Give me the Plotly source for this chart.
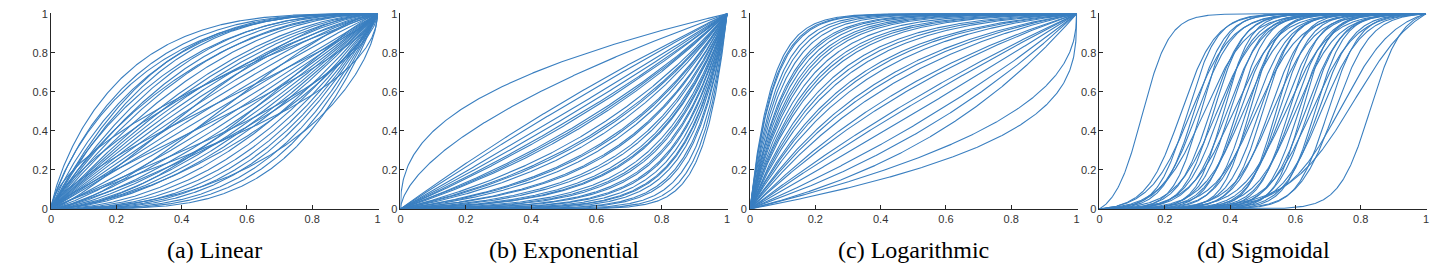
import numpy as np
import plotly.graph_objects as go

# ---------------- data (curve parameters) ----------------
tick_vals = [0, 0.2, 0.4, 0.6, 0.8, 1]
tick_text = ["0", "0.2", "0.4", "0.6", "0.8", "1"]
captions = ["(a) Linear", "(b) Exponential", "(c) Logarithmic", "(d) Sigmoidal"]

# (a) Linear: y = 1 - (1 - x^a)^b
linear_a = [0.8, 0.85, 0.9, 0.8, 1.0, 1.0, 0.9, 1.0, 1.0, 0.9, 1.0, 1.0, 1.0, 1.0, 1.0,
            1.0, 1.0, 1.0, 1.0, 1.0, 1.0, 1.1, 1.2, 1.3, 1.4, 1.5, 1.6, 1.7, 1.8, 2.0,
            2.2, 2.4, 2.6, 2.8, 3.0, 3.3, 3.6, 4.0, 0.8, 0.7, 0.9, 1.5, 1.3, 1.8, 0.75,
            1.2, 0.85, 2.2, 1.6, 0.6]
linear_b = [3.2, 3.0, 2.8, 2.6, 3.2, 3.0, 2.4, 2.6, 2.4, 2.0, 2.2, 2.0, 1.8, 1.7, 1.6,
            1.5, 1.4, 1.3, 1.2, 1.1, 1.0, 1.0, 1.0, 1.0, 1.0, 1.0, 1.0, 1.0, 1.0, 1.0,
            1.0, 1.0, 1.0, 1.0, 1.0, 1.0, 1.0, 1.0, 0.7, 0.8, 0.6, 1.5, 1.8, 1.3, 1.2,
            0.7, 0.5, 0.6, 0.8, 1.0]

# (b) Exponential: y = (e^(k x) - 1) / (e^k - 1), plus two power curves y = x^p
exp_k = [-0.4, -0.2, 0.1, 0.3, 0.5, 0.6, 0.9, 1.0, 1.1, 1.5, 1.7, 1.8, 2.0, 2.4, 2.5,
         2.7, 3.1, 3.2, 3.6, 3.8, 4.2, 4.4, 4.5, 5.0, 5.3, 5.5, 6.0, 6.2, 6.8, 7.0,
         7.6, 8.2, 8.4, 9.0, 10.0, 10.5, 12.0, 13.5, 15.0]
exp_pow = [0.4, 0.6]

# (c) Logarithmic: y = 1 - (e^(k (1-x)) - 1) / (e^k - 1), plus y = 1 - (1-x)^p
log_k = [-1.5, -1.0, -0.6, -0.1, 0.3, 0.5, 1.0, 1.2, 1.7, 2.0, 2.2, 2.7, 3.0, 3.2, 3.7,
         4.0, 4.3, 4.9, 5.2, 5.5, 6.0, 6.6, 7.0, 7.4, 8.0, 8.6, 9.0, 10.0, 11.0, 12.0,
         13.5, 14.0, 15.0]
log_pow = [0.32, 0.42]

# (d) Sigmoidal: normalised logistic with centre c and steepness s
sig_c = [0.13, 0.25, 0.27, 0.28, 0.29, 0.30, 0.31, 0.32, 0.34, 0.35, 0.36, 0.37, 0.38,
         0.39, 0.40, 0.41, 0.42, 0.43, 0.44, 0.45, 0.46, 0.47, 0.48, 0.49, 0.50, 0.52,
         0.53, 0.54, 0.55, 0.56, 0.57, 0.58, 0.59, 0.60, 0.61, 0.62, 0.63, 0.64, 0.65,
         0.66, 0.67, 0.68, 0.70, 0.72, 0.74, 0.78, 0.83]
sig_s = [24, 19, 22, 16, 21, 18, 24, 15, 20, 22, 16, 19, 24, 18, 21, 15, 22, 19, 16, 21,
         24, 18, 15, 20, 22, 19, 16, 24, 21, 18, 15, 22, 19, 16, 21, 24, 18, 20, 15, 22,
         19, 16, 21, 18, 12, 10, 21]

# ---------------- curve construction ----------------
xs = np.unique(np.concatenate([np.linspace(0, 1, 501),
                               np.geomspace(1e-5, 0.01, 40),
                               1 - np.geomspace(1e-5, 0.01, 40)]))


def join(curves):
    X, Y = [], []
    for y in curves:
        X.extend(xs.tolist() + [None])
        Y.extend(np.asarray(y).tolist() + [None])
    return X, Y


def expc(k, x):
    if abs(k) < 1e-9:
        return x
    return np.expm1(k * x) / np.expm1(k)


def logistic(c, s, x):
    f = lambda t: 1.0 / (1.0 + np.exp(-s * (t - c)))
    return (f(x) - f(0.0)) / (f(1.0) - f(0.0))


panels = []
panels.append([1 - (1 - xs ** a) ** b for a, b in zip(linear_a, linear_b)])
panels.append([expc(k, xs) for k in exp_k] + [xs ** p for p in exp_pow])
panels.append([1 - expc(k, 1 - xs) for k in log_k] + [1 - (1 - xs) ** p for p in log_pow])
panels.append([logistic(c, s, xs) for c, s in zip(sig_c, sig_s)])

# ---------------- figure ----------------
W, H = 1437, 263
ml, mr, mt, mb = 51, 8, 12, 54
pw = W - ml - mr
left_px = [51, 401, 751, 1101]
panel_w = 328

fig = go.Figure()
line_color = "#3a7fc0"
for i, curves in enumerate(panels):
    X, Y = join(curves)
    fig.add_trace(go.Scatter(x=X, y=Y, mode="lines",
                             line=dict(color=line_color, width=1.1),
                             xaxis="x" if i == 0 else f"x{i+1}",
                             yaxis="y" if i == 0 else f"y{i+1}",
                             showlegend=False, hoverinfo="skip"))

axis_common = dict(showline=True, linecolor="#262626", linewidth=1, ticks="inside",
                   ticklen=4, tickcolor="#262626", tickwidth=1, showgrid=False,
                   zeroline=False, tickvals=tick_vals, ticktext=tick_text,
                   tickfont=dict(family="Liberation Sans", size=11, color="#333333"),
                   fixedrange=True)

layout = dict(width=W, height=H, margin=dict(l=ml, r=mr, t=mt, b=mb),
              paper_bgcolor="white", plot_bgcolor="white", showlegend=False)
annotations = []
for i in range(4):
    x0 = (left_px[i] - ml) / pw
    x1 = (left_px[i] + panel_w - ml) / pw
    sx = "" if i == 0 else str(i + 1)
    layout[f"xaxis{sx}"] = dict(axis_common, domain=[x0, min(x1, 1.0)], range=[0, 1.003],
                                anchor=f"y{sx}")
    layout[f"yaxis{sx}"] = dict(axis_common, domain=[0, 1], range=[0, 1.004],
                                anchor=f"x{sx}")
    annotations.append(dict(text=captions[i], xref="paper", yref="paper",
                            x=(x0 + x1) / 2, y=(209 - 250) / 197, xanchor="center",
                            yanchor="middle", showarrow=False,
                            font=dict(family="Liberation Serif", size=24, color="black")))
layout["annotations"] = annotations
fig.update_layout(**layout)
fig.write_html("out.html")
